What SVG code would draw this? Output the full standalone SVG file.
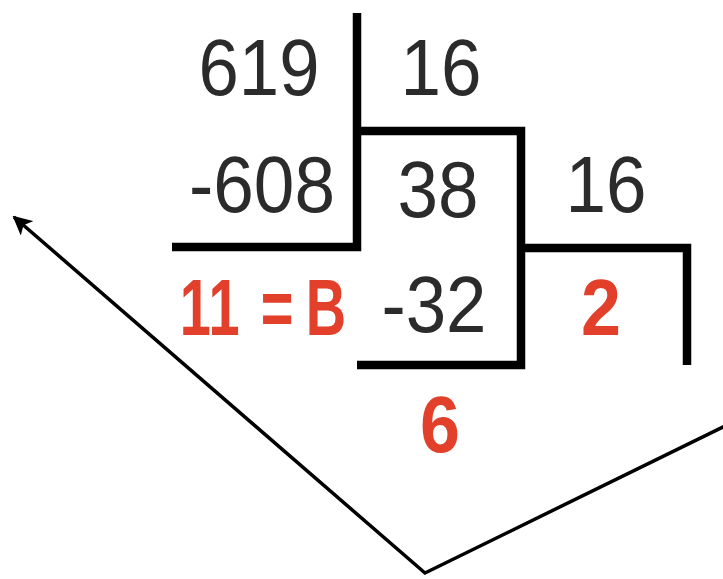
<svg xmlns="http://www.w3.org/2000/svg" width="723" height="579" viewBox="0 0 723 579">
  <style>
    .num { font-family: "Liberation Sans", Arial, sans-serif; font-size: 80px; fill: #2b2b2b; text-anchor: middle; }
    .red { font-family: "Liberation Sans", Arial, sans-serif; font-size: 80px; font-weight: bold; fill: #e2402b; text-anchor: middle; }
    .bar { fill: none; stroke: #000; stroke-width: 8.5; stroke-linejoin: miter; stroke-linecap: butt; }
    .conn { fill: none; stroke: #000; stroke-width: 3.5; stroke-linejoin: miter; }
  </style>
  <defs>
    <marker id="arrow" viewBox="0 0 10 10" refX="9" refY="5" markerWidth="5.5" markerHeight="5.5" orient="auto-start-reverse" markerUnits="strokeWidth">
      <path d="M0,0 L10,5 L0,10 L2.5,5 Z" fill="#000"/>
    </marker>
  </defs>
  <rect width="723" height="579" fill="#fff"/>

  <g id="division-bars">
    <path class="bar" d="M172,247 H357 V13"/>
    <path class="bar" d="M357,131 H521 V365 H357"/>
    <path class="bar" d="M521,248 H687 V365"/>
  </g>

  <g id="step1">
    <text class="num" x="259" y="95" textLength="121" lengthAdjust="spacingAndGlyphs">619</text>
    <text class="num" x="441" y="95" textLength="81" lengthAdjust="spacingAndGlyphs">16</text>
    <text class="num" x="262" y="212" textLength="146" lengthAdjust="spacingAndGlyphs">-608</text>
    <text class="red" y="335" transform="scale(0.7,1)"><tspan x="279">1</tspan><tspan x="320">1</tspan><tspan x="395.7">=</tspan><tspan x="465.7">B</tspan></text>
  </g>

  <g id="step2">
    <text class="num" x="438" y="217" textLength="81" lengthAdjust="spacingAndGlyphs">38</text>
    <text class="num" x="606" y="212" textLength="81" lengthAdjust="spacingAndGlyphs">16</text>
    <text class="num" x="434" y="332" textLength="105" lengthAdjust="spacingAndGlyphs">-32</text>
    <text class="red" x="440" y="452" textLength="40" lengthAdjust="spacingAndGlyphs">6</text>
  </g>

  <g id="step3">
    <text class="red" x="601" y="335" textLength="40" lengthAdjust="spacingAndGlyphs">2</text>
  </g>

  <g id="connectors">
    <polyline class="conn" points="725,426 425,573 14,217" marker-end="url(#arrow)"/>
  </g>
</svg>
